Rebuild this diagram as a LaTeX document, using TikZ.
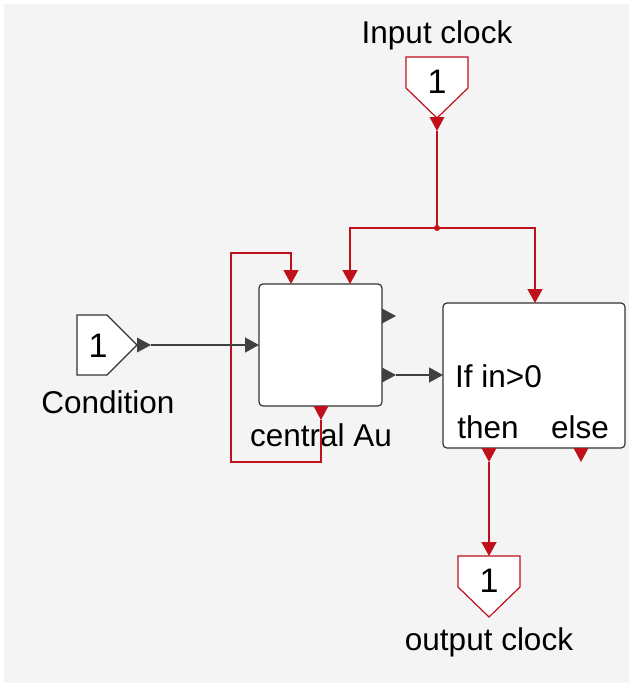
\documentclass[tikz,border=0pt]{standalone}
\usepackage{fontspec}
\setmainfont{Liberation Sans}
\usetikzlibrary{arrows.meta}
\definecolor{ClkRed}{HTML}{C0101C}
\definecolor{Wire}{HTML}{404040}
\definecolor{Frame}{HTML}{333333}
\definecolor{Canvas}{HTML}{F4F4F4}
\newcommand{\lblfont}{\fontsize{31.5}{36}\selectfont}
\newcommand{\numfont}{\fontsize{34}{40}\selectfont}
\tikzset{
  block/.style={draw=Frame, fill=white, rounded corners=4pt, line width=1.2pt, inner sep=0pt},
  portnum/.style={font=\numfont, inner sep=0pt},
  lbl/.style={font=\lblfont, inner sep=0pt},
  clkwire/.style={draw=ClkRed, line width=1.4pt},
  clkarrow/.style={clkwire, -{Triangle[length=14pt,width=15pt]}},
  datawire/.style={draw=Wire, line width=1.4pt},
  dataarrow/.style={datawire, -{Triangle[length=14pt,width=15pt]}},
  clkbox/.pic={\filldraw[draw=ClkRed, fill=white, line width=1.2pt] (-31,0) -- (31,0) -- (31,31) -- (0,61) -- (-31,31) -- cycle;},
  databox/.pic={\filldraw[draw=Frame, fill=white, line width=1.2pt] (0,-30) -- (30,-30) -- (60,0) -- (30,30) -- (0,30) -- cycle;},
  evout/.pic={\fill[ClkRed] (-7.5,0) -- (7.5,0) -- (0,14) -- cycle;},
  dout/.pic={\fill[Wire] (0,-7.5) -- (0,7.5) -- (14,0) -- cycle;}
}

\begin{document}
\begin{tikzpicture}[x=1pt,y=-1pt]
  \fill[white] (0,0) rectangle (632,686);
  \fill[Canvas] (4,4) rectangle (629,683);
  \useasboundingbox (0,0) rectangle (632,686);

  % blocks
  \node[block, minimum width=123pt, minimum height=122pt] (central) at (320.5,345) {};
  \node[lbl] (centrallbl) at (321,435) {central Au};
  \node[block, minimum width=182pt, minimum height=145pt] (ifb) at (534,375.5) {};
  \node[lbl, anchor=west] (ifcond) at (455,376) {If in>0};
  \node[lbl] (then) at (488,427) {then};
  \node[lbl] (else) at (580,427) {else};

  % in/out ports
  \pic at (437,57) {clkbox};
  \node[portnum] (inclk) at (437,82) {1};
  \node[lbl] (inclklbl) at (437,35) {Input clock};
  \pic at (489,556) {clkbox};
  \node[portnum] (outclk) at (489,581) {1};
  \node[lbl] (outclklbl) at (489,642) {output clock};
  \pic at (77,345) {databox};
  \node[portnum] (cond) at (98,346) {1};
  \node[lbl] (condlbl) at (108,402) {Condition};

  % port points
  \coordinate (inclk-w) at (437,131);
  \coordinate (jn) at (437,228);
  \coordinate (central-c1) at (291,284);
  \coordinate (central-c2) at (350,284);
  \coordinate (central-e) at (321,420);
  \coordinate (central-i) at (259,345);
  \coordinate (central-o) at (396,375);
  \coordinate (ifb-c) at (535,303);
  \coordinate (ifb-i) at (443,375);
  \coordinate (ifb-then) at (489,462);
  \coordinate (outclk-c) at (489,556);
  \coordinate (cond-o) at (151,345);

  \pic at (437,117) {evout};
  \pic at (321,406) {evout};
  \pic at (489,448) {evout};
  \pic at (581,448) {evout};
  \pic at (137,345) {dout};
  \pic at (382,316) {dout};
  \pic at (382,375) {dout};

  % clock links
  \draw[clkwire] (inclk-w) -- (jn);
  \fill[ClkRed] (jn) circle (3pt);
  \draw[clkarrow] (jn) -| (central-c2);
  \draw[clkarrow] (jn) -| (ifb-c);
  \draw[clkarrow] (central-e) -- ++(0,42) -| (231,253) -| (central-c1);
  \draw[clkarrow] (ifb-then) -- (outclk-c);

  % data links
  \draw[dataarrow] (cond-o) -- (central-i);
  \draw[dataarrow] (central-o) -- (ifb-i);
\end{tikzpicture}
\end{document}
